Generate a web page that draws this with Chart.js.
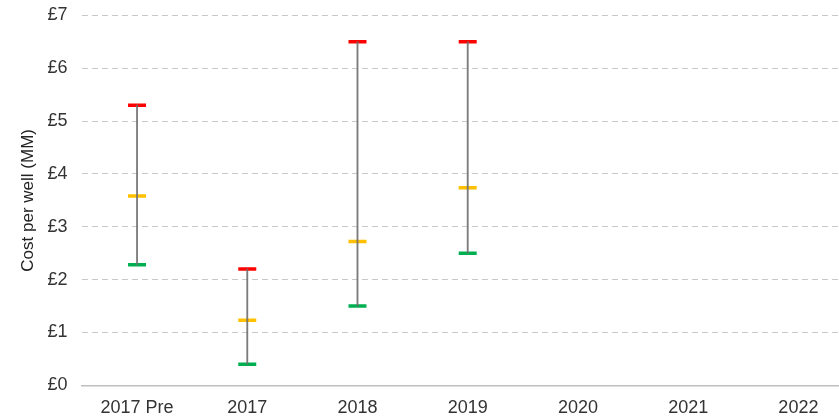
<!DOCTYPE html>
<html><head><meta charset="utf-8">
<script src="https://cdn.jsdelivr.net/npm/chart.js@4/dist/chart.umd.min.js"></script>
<style>html,body{margin:0;padding:0;overflow:hidden;background:#fff}#wrap{width:866px;height:419px}</style>
</head><body><div id="wrap"><canvas id="c" width="866" height="419"></canvas></div>
<script>
const categories = ["2017 Pre","2017","2018","2019","2020","2021","2022"];
const highValues = [5.3, 2.2, 6.5, 6.5, null, null, null];
const midValues  = [3.58, 1.23, 2.72, 3.74, null, null, null];
const lowValues  = [2.28, 0.4, 1.5, 2.5, null, null, null];
const yTicks = [0,1,2,3,4,5,6,7];

const ranges = categories.map((_, i) => (lowValues[i] == null ? null : [lowValues[i], highValues[i]]));
const marker = (label, data, color) => ({
  type: 'line', label, data, showLine: false,
  pointStyle: 'line', pointRadius: 9, pointHoverRadius: 9,
  pointBorderWidth: 3.5, borderColor: color, backgroundColor: color, order: 2
});

const chart = new Chart(document.getElementById('c'), {
  data: {
    labels: categories,
    datasets: [
      { type: 'bar', label: 'range', data: ranges, backgroundColor: 'rgba(110,110,110,0.9)', barThickness: 1.2, order: 1 },
      marker('High', highValues, '#ff0000'),
      marker('Mid', midValues, '#ffc000'),
      marker('Low', lowValues, '#00b050')
    ]
  },
  options: {
    responsive: false, animation: false,
    layout: { padding: { top: 0, right: 0, left: 18, bottom: -4 } },
    plugins: { legend: { display: false }, tooltip: { enabled: false } },
    scales: {
      x: {
        grid: { display: false },
        border: { display: true, color: '#bfbfbf', width: 1.5 },
        ticks: { color: '#333', font: { family: 'Liberation Sans', size: 18 }, padding: 4 }
      },
      y: {
        min: 0, max: 7,
        afterBuildTicks: ax => { ax.ticks = yTicks.map(v => ({ value: v })); },
        grid: { color: ctx => ctx.tick && ctx.tick.value === 0 ? 'rgba(0,0,0,0)' : '#c8c8c8', lineWidth: 1, drawTicks: false },
        border: { display: false, dash: [6, 4] },
        ticks: { color: '#333', font: { family: 'Liberation Sans', size: 18 }, padding: 4.5, callback: v => '£' + v + '  ' },
        title: { display: true, text: 'Cost per well (MM)', color: '#222', font: { family: 'Liberation Sans', size: 17 }, padding: { top: 0, bottom: 4.5 } }
      }
    }
  }
});
</script></body></html>
